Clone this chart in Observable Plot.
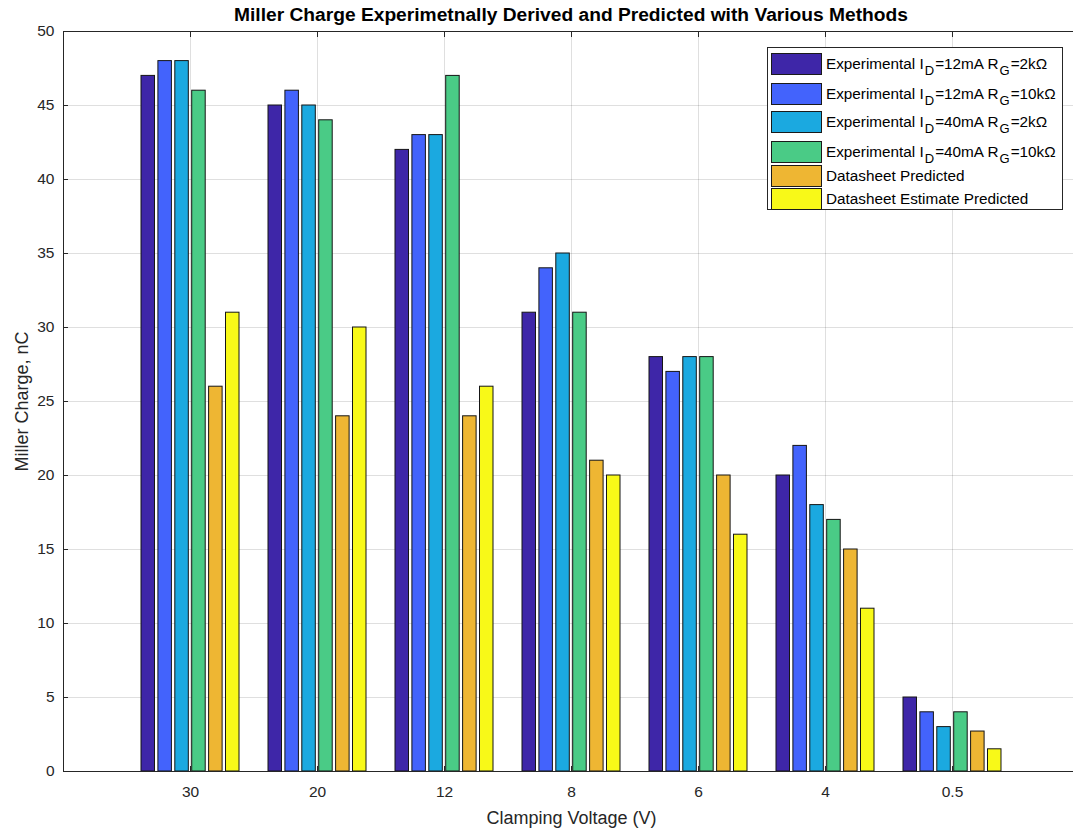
<!DOCTYPE html>
<html>
<head>
<meta charset="utf-8">
<script src="https://cdn.jsdelivr.net/npm/d3@7"></script>
<script src="https://cdn.jsdelivr.net/npm/@observablehq/plot@0.6"></script>
<style>
  html, body { margin: 0; padding: 0; background: #fff; overflow: hidden; width: 1073px; height: 829px; }
  #wrap { position: relative; width: 1073px; height: 829px; overflow: hidden; font-family: "Liberation Sans", Arial, Helvetica, sans-serif; }
  #chart svg { display: block; }
  #title { position: absolute; left: 63px; width: 1016px; top: 4px; text-align: center; font-weight: bold; font-size: 19.2px; color: #000; }
  #legend { position: absolute; left: 767px; top: 47px; width: 296px; height: 163px; background: #fff; border: 1px solid #262626; box-sizing: border-box; }
  .row { position: absolute; left: 3px; display: flex; align-items: center; }
  .sw { width: 51px; height: 22px; border: 1px solid #1a1a1a; box-sizing: border-box; }
  .lt { margin-left: 4px; font-size: 15.3px; color: #000; white-space: nowrap; }
  .lt sub { font-size: 13px; vertical-align: -6px; line-height: 0; margin: 0 1px; }
</style>
</head>
<body>
<div id="wrap">
  <div id="chart"></div>
  <div id="title"></div>
  <div id="legend"></div>
</div>
<script>
// ---- data ----
const voltages = ["30", "20", "12", "8", "6", "4", "0.5"];
const seriesNames = [
  "Experimental I<sub>D</sub>=12mA R<sub>G</sub>=2kΩ",
  "Experimental I<sub>D</sub>=12mA R<sub>G</sub>=10kΩ",
  "Experimental I<sub>D</sub>=40mA R<sub>G</sub>=2kΩ",
  "Experimental I<sub>D</sub>=40mA R<sub>G</sub>=10kΩ",
  "Datasheet Predicted",
  "Datasheet Estimate Predicted"
];
const expId12Rg2k  = [47, 45, 42, 31, 28, 20, 5];
const expId12Rg10k = [48, 46, 43, 34, 27, 22, 4];
const expId40Rg2k  = [48, 45, 43, 35, 28, 18, 3];
const expId40Rg10k = [46, 44, 47, 31, 28, 17, 4];
const datasheetPredicted = [26, 24, 24, 21, 20, 15, 2.7];
const datasheetEstimate  = [31, 30, 26, 20, 16, 11, 1.5];
const seriesColors = ["#3e26a8", "#4363fc", "#1ba9e0", "#4acb86", "#eeb633", "#f8f918"];
const yTicks = [0, 5, 10, 15, 20, 25, 30, 35, 40, 45, 50];

const seriesValues = [expId12Rg2k, expId12Rg10k, expId40Rg2k, expId40Rg10k, datasheetPredicted, datasheetEstimate];

const barPitch = 16.9;
const axisColor = "#262626";

const bars = seriesValues.map((vals, i) =>
  Plot.barY(voltages, {
    x: voltages,
    y: vals,
    fill: seriesColors[i],
    stroke: "#151515",
    strokeWidth: 1,
    dx: (i - 2.5) * barPitch
  })
);

// x domain spans [0, 8] group steps from the left axis edge; right edge falls just past the window
const chart = Plot.plot({
  width: 1073,
  height: 829,
  marginLeft: 63,
  marginRight: -6,
  marginTop: 31,
  marginBottom: 58,
  style: { fontFamily: "'Liberation Sans', Arial, Helvetica, sans-serif", background: "#fff", color: axisColor, overflow: "hidden" },
  x: { type: "band", domain: voltages, paddingInner: 0.8937, paddingOuter: 0.9469, align: 0.5, round: false },
  y: { domain: [0, 50] },
  marks: [
    Plot.gridY(yTicks, { stroke: axisColor, strokeOpacity: 0.15 }),
    Plot.gridX(voltages, { stroke: axisColor, strokeOpacity: 0.15 }),
    Plot.axisY(yTicks, { anchor: "left", tickSize: -5, tickPadding: 14, fontSize: 15.5, color: axisColor, label: "Miller Charge, nC", labelArrow: "none", labelAnchor: "center", labelOffset: 48 }),
    Plot.axisX(voltages, { anchor: "bottom", tickSize: -5, tickPadding: 19, fontSize: 15.5, color: axisColor, label: "Clamping Voltage (V)", labelArrow: "none", labelAnchor: "center", labelOffset: 52 }),
    Plot.axisX(voltages, { anchor: "top", tickSize: -5, tickFormat: () => "", label: null, color: axisColor }),
    ...bars,
    Plot.frame({ anchor: "top", stroke: axisColor, strokeWidth: 1 }),
    Plot.frame({ anchor: "left", stroke: axisColor, strokeWidth: 1 }),
    Plot.frame({ anchor: "bottom", stroke: axisColor, strokeWidth: 1 })
  ]
});
document.getElementById("chart").appendChild(chart);

// style axis labels
chart.querySelectorAll("[aria-label='y-axis label'] text, [aria-label='x-axis label'] text").forEach(t => {
  t.setAttribute("font-size", "18");
  t.textContent = t.textContent.replace(/[↑↓←→]/g, "").trim();
});

document.getElementById("title").textContent = "Miller Charge Experimetnally Derived and Predicted with Various Methods";

// legend
const rowTops = [5, 35, 63, 93, 117, 140];
const legend = document.getElementById("legend");
seriesNames.forEach((name, i) => {
  const row = document.createElement("div");
  row.className = "row";
  row.style.top = rowTops[i] + "px";
  row.innerHTML = `<div class="sw" style="background:${seriesColors[i]}"></div><div class="lt">${name}</div>`;
  legend.appendChild(row);
});
</script>
</body>
</html>
